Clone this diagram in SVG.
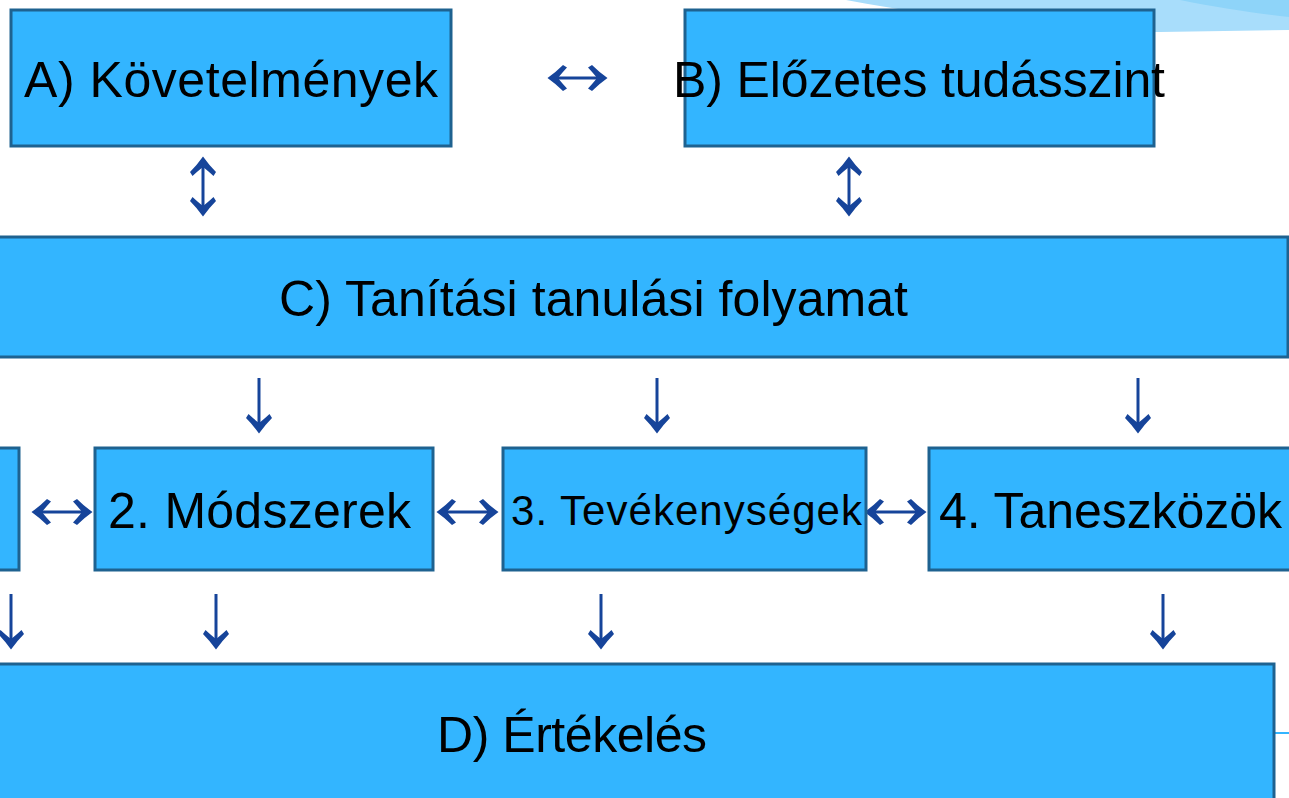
<svg xmlns="http://www.w3.org/2000/svg" width="1289" height="798" viewBox="0 0 1289 798">
<defs>
<style>
.box{fill:#33B5FF;stroke:#1E6290;stroke-width:3}
.t{font-family:"Liberation Sans",Arial,sans-serif;font-size:50px;fill:#000;text-anchor:middle}
.a{stroke:#16449A;stroke-width:3;fill:none;marker-end:url(#h);marker-start:url(#h)}
.d{stroke:#16449A;stroke-width:3;fill:none;marker-end:url(#h)}
</style>
<marker id="h" markerUnits="userSpaceOnUse" markerWidth="30" markerHeight="30" refX="0" refY="0" orient="auto-start-reverse" overflow="visible">
<path d="M2.5,0 Q-6,-6 -13,-13 L-17,-10.5 Q-11,-4 -8,0 Q-11,4 -17,10.5 L-13,13 Q-6,6 2.5,0 Z" fill="#16449A"/>
</marker>
</defs>
<rect width="1289" height="798" fill="#fff"/>
<g id="swoosh">
<path d="M846,0 C950,20 1080,32 1160,32 L1289,30 L1289,0 Z" fill="#A8DDFB"/>
<path d="M1180,0 C1220,8 1260,14 1289,17 L1289,0 Z" fill="#8ED4F9"/>
<line x1="1275" y1="733" x2="1289" y2="733" stroke="#33B5FF" stroke-width="2"/>
</g>
<g id="connectors">
<line class="a" x1="550" y1="78" x2="605" y2="78"/>
<line class="a" x1="203" y1="159" x2="203" y2="214"/>
<line class="a" x1="849" y1="159" x2="849" y2="214"/>
<line class="d" x1="259" y1="378" x2="259" y2="431"/>
<line class="d" x1="657" y1="378" x2="657" y2="431"/>
<line class="d" x1="1138" y1="378" x2="1138" y2="431"/>
<line class="a" x1="34" y1="512" x2="90" y2="512"/>
<line class="a" x1="439" y1="512" x2="496" y2="512"/>
<line class="a" x1="867" y1="512" x2="924" y2="512"/>
<line class="d" x1="11" y1="594" x2="11" y2="647"/>
<line class="d" x1="216" y1="594" x2="216" y2="647"/>
<line class="d" x1="601" y1="594" x2="601" y2="647"/>
<line class="d" x1="1163" y1="594" x2="1163" y2="647"/>
</g>
<g id="nodeA"><rect class="box" x="11" y="10" width="440" height="136"/><text class="t" x="231" y="97" textLength="414">A) Követelmények</text></g>
<g id="nodeB"><rect class="box" x="685" y="10" width="469" height="136"/><text class="t" x="919" y="97" textLength="492">B) Előzetes tudásszint</text></g>
<g id="nodeC"><rect class="box" x="-10" y="237" width="1298" height="120"/><text class="t" x="593.5" y="316" textLength="629">C) Tanítási tanulási folyamat</text></g>
<g id="node1"><rect class="box" x="-10" y="448" width="29" height="122"/></g>
<g id="node2"><rect class="box" x="95" y="448" width="338" height="122"/><text class="t" x="259.5" y="528" textLength="303">2. Módszerek</text></g>
<g id="node3"><rect class="box" x="503" y="448" width="363" height="122"/><text class="t" x="686.5" y="525" style="font-size:42px" textLength="351">3. Tevékenységek</text></g>
<g id="node4"><rect class="box" x="929" y="448" width="370" height="122"/><text class="t" x="1110.5" y="528" textLength="343">4. Taneszközök</text></g>
<g id="nodeD"><rect class="box" x="-10" y="664" width="1284" height="150"/><text class="t" x="572" y="752" textLength="270">D) Értékelés</text></g>
</svg>
